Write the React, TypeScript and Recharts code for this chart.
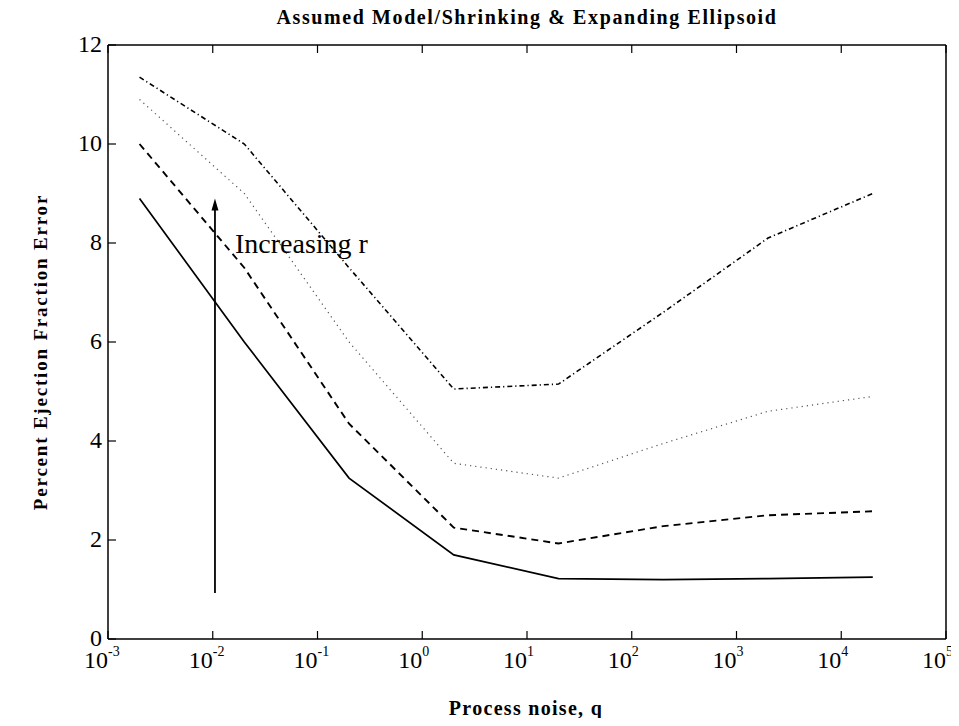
import React from "react";
import { LineChart, Line, XAxis, YAxis, ReferenceLine, ReferenceDot } from "recharts";

const qValues = [0.002, 0.02, 0.2, 2, 20, 200, 2000, 20000];
const seriesR1 = [8.9, 6.0, 3.25, 1.7, 1.22, 1.2, 1.22, 1.25];
const seriesR2 = [10.0, 7.5, 4.35, 2.25, 1.93, 2.28, 2.5, 2.58];
const seriesR3 = [10.9, 9.0, 6.0, 3.55, 3.25, 3.95, 4.6, 4.9];
const seriesR4 = [11.35, 10.0, 7.5, 5.05, 5.15, 6.6, 8.1, 9.0];
const xTicks = [0.001, 0.01, 0.1, 1, 10, 100, 1000, 10000, 100000];
const yTicks = [0, 2, 4, 6, 8, 10, 12];

const data = qValues.map((q, i) => ({
  q,
  r1: seriesR1[i],
  r2: seriesR2[i],
  r3: seriesR3[i],
  r4: seriesR4[i],
}));

const FONT = "'Liberation Serif', 'DejaVu Serif', serif";

const BottomTick = (props: any) => {
  const { x, y, payload } = props;
  const e = Math.round(Math.log10(payload.value));
  return (
    <g>
      <line x1={x} y1={y} x2={x} y2={y - 8} stroke="#000" strokeWidth={1.2} />
      <text x={x - 24} y={y + 29} textAnchor="start" fontFamily={FONT} fontSize={24} fill="#000">
        10
        <tspan dy={-12} fontSize={14}>{String(e)}</tspan>
      </text>
    </g>
  );
};

const TopTick = (props: any) => {
  const { x, y } = props;
  return <line x1={x} y1={y} x2={x} y2={y + 8} stroke="#000" strokeWidth={1.2} />;
};

const LeftTick = (props: any) => {
  const { x, y, payload } = props;
  return (
    <g>
      <line x1={x} y1={y} x2={x + 8} y2={y} stroke="#000" strokeWidth={1.2} />
      <text x={x - 6} y={y - 1} textAnchor="end" dominantBaseline="central" fontFamily={FONT} fontSize={24} fill="#000">
        {payload.value}
      </text>
    </g>
  );
};

const RightTick = (props: any) => {
  const { x, y } = props;
  return <line x1={x} y1={y} x2={x - 8} y2={y} stroke="#000" strokeWidth={1.2} />;
};

const ArrowShape = (props: any) => {
  const { x1, y1, y2 } = props;
  const top = Math.min(y1, y2);
  const bottom = Math.max(y1, y2);
  return (
    <g>
      <line x1={x1} y1={bottom} x2={x1} y2={top + 6} stroke="#000" strokeWidth={1.8} />
      <polygon points={`${x1},${top} ${x1 - 3.5},${top + 12} ${x1 + 3.5},${top + 12}`} fill="#000" />
    </g>
  );
};

const TextShape = (props: any) => {
  const { cx, cy } = props;
  return (
    <text x={cx} y={cy} dominantBaseline="central" fontFamily={FONT} fontSize={28} fill="#000">
      Increasing r
    </text>
  );
};

export default function App() {
  const W = 951;
  const H = 710;
  return (
    <div style={{ position: "relative", width: W, height: H, fontFamily: FONT, background: "#fff" }}>
      <div
        style={{
          position: "absolute",
          left: 0,
          width: 1038,
          top: -2,
          textAlign: "center",
          fontSize: 20,
          fontWeight: "bold",
          letterSpacing: 1.6,
          lineHeight: "22px",
          whiteSpace: "nowrap",
        }}
      >
        Assumed Model/Shrinking &amp; Expanding Ellipsoid
      </div>
      <div
        style={{
          position: "absolute",
          left: 0,
          width: 1036,
          top: 690,
          textAlign: "center",
          fontSize: 20,
          fontWeight: "bold",
          letterSpacing: 1.3,
          lineHeight: "20px",
          whiteSpace: "nowrap",
        }}
      >
        Process noise, q
      </div>
      <div
        style={{
          position: "absolute",
          left: 33 - 200,
          top: 344 - 11,
          width: 400,
          textAlign: "center",
          fontSize: 19,
          fontWeight: "bold",
          letterSpacing: 1.8,
          lineHeight: "22px",
          whiteSpace: "nowrap",
          transform: "rotate(-90deg)",
        }}
      >
        Percent Ejection Fraction Error
      </div>
      <LineChart
        width={W}
        height={H}
        data={data}
        margin={{ top: 36, right: 12, bottom: 39, left: 40 }}
        style={{ overflow: "visible" }}
      >
        <XAxis
          xAxisId="bottom"
          dataKey="q"
          type="number"
          scale="log"
          domain={[0.001, 100000]}
          ticks={xTicks}
          allowDataOverflow
          height={40}
          tickSize={0}
          tickMargin={0}
          tickLine={false}
          tick={<BottomTick />}
          axisLine={{ stroke: "#000", strokeWidth: 1.5 }}
          interval={0}
        />
        <XAxis
          xAxisId="top"
          orientation="top"
          dataKey="q"
          type="number"
          scale="log"
          domain={[0.001, 100000]}
          ticks={xTicks}
          allowDataOverflow
          height={1}
          tickSize={0}
          tickMargin={0}
          tickLine={false}
          tick={<TopTick />}
          axisLine={{ stroke: "#000", strokeWidth: 1.5 }}
          interval={0}
        />
        <YAxis
          yAxisId="left"
          type="number"
          domain={[0, 12]}
          ticks={yTicks}
          width={60}
          tickSize={0}
          tickMargin={0}
          tickLine={false}
          tick={<LeftTick />}
          axisLine={{ stroke: "#000", strokeWidth: 1.5 }}
          interval={0}
        />
        <YAxis
          yAxisId="right"
          orientation="right"
          type="number"
          domain={[0, 12]}
          ticks={yTicks}
          width={1}
          tickSize={0}
          tickMargin={0}
          tickLine={false}
          tick={<RightTick />}
          axisLine={{ stroke: "#000", strokeWidth: 1.5 }}
          interval={0}
        />
        <Line xAxisId="bottom" yAxisId="left" dataKey="r1" stroke="#000" strokeWidth={1.7} dot={false} isAnimationActive={false} />
        <Line xAxisId="bottom" yAxisId="left" dataKey="r2" stroke="#000" strokeWidth={1.9} strokeDasharray="7 5" dot={false} isAnimationActive={false} />
        <Line xAxisId="bottom" yAxisId="left" dataKey="r3" stroke="#555" strokeWidth={1.2} strokeDasharray="1.2 4" dot={false} isAnimationActive={false} />
        <Line xAxisId="bottom" yAxisId="left" dataKey="r4" stroke="#000" strokeWidth={1.6} strokeDasharray="5 3 1.2 3" dot={false} isAnimationActive={false} />
        <ReferenceLine
          xAxisId="bottom"
          yAxisId="left"
          segment={[{ x: 0.0105, y: 0.93 }, { x: 0.0105, y: 8.9 }]}
          shape={<ArrowShape />}
        />
        <ReferenceDot xAxisId="bottom" yAxisId="left" x={0.0163} y={8.0} r={0} shape={<TextShape />} />
      </LineChart>
    </div>
  );
}
